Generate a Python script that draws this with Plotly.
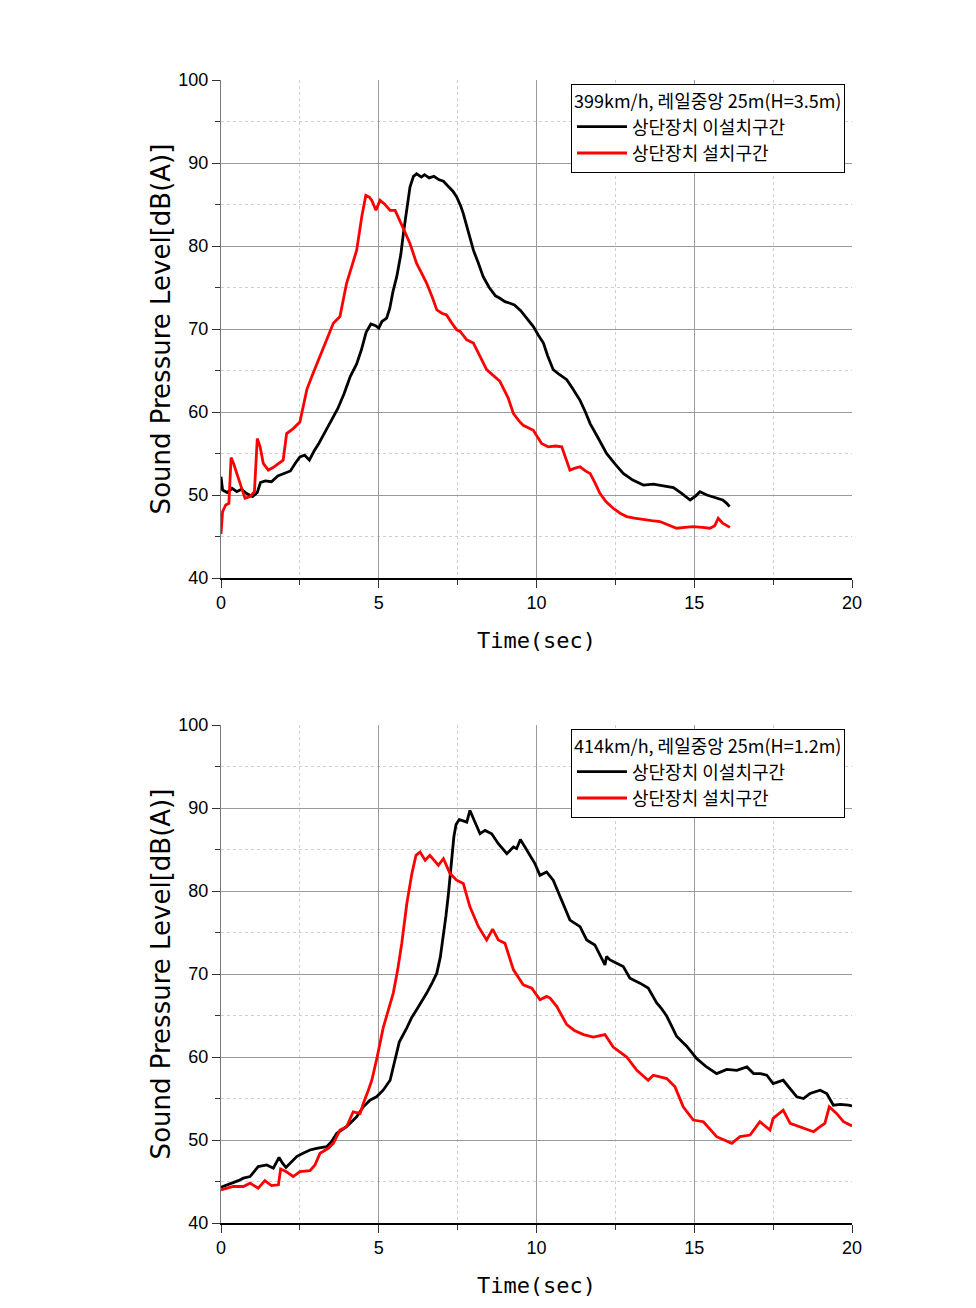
import plotly.graph_objects as go

# ---------------- data ----------------
legend_title_top = "399km/h, 레일중앙 25m(H=3.5m)"
legend_title_bot = "414km/h, 레일중앙 25m(H=1.2m)"
name_black = "상단장치 이설치구간"
name_red = "상단장치 설치구간"

t1_black = [0.0, 0.05, 0.2, 0.35, 0.5, 0.65, 0.8, 1.0, 1.15, 1.25, 1.4, 1.6, 1.8, 2.0, 2.2, 2.35, 2.5, 2.65, 2.8, 2.95,
            3.1, 3.3, 3.5, 3.7, 3.9, 4.1, 4.3, 4.45, 4.6, 4.75, 4.9, 5.0, 5.1, 5.25, 5.35, 5.45, 5.57, 5.7, 5.78, 5.9,
            5.99, 6.1, 6.2, 6.35, 6.45, 6.6, 6.75, 6.9, 7.05, 7.2, 7.35, 7.47, 7.6, 7.68, 7.85, 8.0, 8.15, 8.31, 8.5, 8.7,
            8.84, 9.0, 9.16, 9.3, 9.5, 9.7, 9.9, 10.05, 10.22, 10.35, 10.53, 10.7, 10.96, 11.15, 11.38, 11.55, 11.7,
            11.95, 12.22, 12.5, 12.75, 13.05, 13.39, 13.7, 14.0, 14.34, 14.6, 14.87, 15.05, 15.18, 15.4, 15.7, 15.9,
            16.03, 16.12]
y1_black = [52.2, 50.6, 50.3, 50.8, 50.4, 50.7, 50.2, 49.8, 50.3, 51.5, 51.7, 51.6, 52.3, 52.6, 52.9, 53.8, 54.6, 54.8, 54.2, 55.3,
            56.2, 57.6, 59.0, 60.4, 62.2, 64.3, 65.8, 67.5, 69.6, 70.6, 70.4, 70.1, 70.9, 71.3, 72.5, 74.5, 76.3, 79.0, 81.5, 84.8,
            87.1, 88.4, 88.7, 88.3, 88.6, 88.2, 88.4, 88.0, 87.8, 87.2, 86.6, 85.9, 84.8, 83.9, 81.7, 79.5, 78.0, 76.3, 75.0, 74.0,
            73.7, 73.3, 73.1, 72.9, 72.2, 71.3, 70.3, 69.3, 68.3, 66.8, 65.1, 64.6, 63.9, 62.8, 61.4, 60.0, 58.6,
            56.9, 55.0, 53.7, 52.6, 51.8, 51.2, 51.3, 51.1, 50.9, 50.2, 49.4, 49.9, 50.4, 50.0, 49.6, 49.4,
            49.0, 48.6]

t1_red = [0.0, 0.05, 0.15, 0.25, 0.32, 0.4, 0.5, 0.6, 0.76, 0.92, 1.06, 1.15, 1.24, 1.34, 1.5, 1.65, 1.76, 1.97, 2.08, 2.29,
          2.5, 2.72, 2.9, 3.14, 3.35, 3.56, 3.77, 3.98, 4.15, 4.3, 4.46, 4.59, 4.7, 4.78, 4.91, 5.04, 5.2, 5.36, 5.52, 5.67,
          5.85, 5.99, 6.2, 6.35, 6.52, 6.7, 6.84, 7.0, 7.15, 7.3, 7.47, 7.58, 7.79, 8.0, 8.1, 8.25, 8.42, 8.6, 8.84, 9.1,
          9.27, 9.45, 9.58, 9.9, 10.16, 10.37, 10.6, 10.8, 10.95, 11.06, 11.2, 11.38, 11.55, 11.7, 11.85, 12.01, 12.2,
          12.43, 12.65, 12.86, 13.1, 13.39, 13.65, 13.91, 14.2, 14.44, 14.7, 14.97, 15.25, 15.5, 15.65, 15.76, 15.9, 16.13]
y1_red = [45.3, 48.0, 48.8, 49.0, 54.5, 53.8, 52.6, 51.4, 49.6, 49.8, 50.4, 56.8, 55.8, 53.8, 53.0, 53.3, 53.6, 54.2, 57.4, 58.0,
          58.8, 62.7, 64.5, 66.7, 68.8, 70.7, 71.5, 75.5, 77.6, 79.5, 83.5, 86.1, 85.9, 85.5, 84.3, 85.5, 85.0, 84.3, 84.3, 83.1,
          81.5, 80.3, 77.9, 76.8, 75.5, 73.8, 72.3, 71.9, 71.7, 70.8, 69.9, 69.7, 68.7, 68.3, 67.5, 66.3, 65.1, 64.5, 63.7, 61.7,
          59.8, 58.9, 58.4, 57.8, 56.2, 55.8, 55.9, 55.8, 54.2, 53.0, 53.2, 53.4, 52.9, 52.6, 51.5, 50.2, 49.2,
          48.4, 47.8, 47.4, 47.2, 47.0, 46.9, 46.8, 46.4, 46.0, 46.1, 46.2, 46.1, 46.0, 46.3, 47.2, 46.6, 46.1]

t2_black = [0.0, 0.2, 0.39, 0.55, 0.71, 0.92, 1.05, 1.18, 1.45, 1.66, 1.84, 1.95, 2.06, 2.25, 2.4, 2.6, 2.82, 3.03, 3.35, 3.5,
            3.67, 3.98, 4.15, 4.3, 4.51, 4.72, 4.93, 5.14, 5.36, 5.5, 5.65, 5.89, 6.05, 6.2, 6.35, 6.52, 6.7, 6.84, 6.95,
            7.05, 7.13, 7.21, 7.31, 7.38, 7.45, 7.55, 7.63, 7.79, 7.89, 8.05, 8.21, 8.37, 8.58, 8.79, 9.06, 9.27, 9.37,
            9.49, 9.69, 9.95, 10.11, 10.32, 10.53, 10.75, 10.9, 11.06, 11.38, 11.59, 11.85, 12.0, 12.17, 12.22, 12.33,
            12.54, 12.75, 12.96, 13.18, 13.28, 13.54, 13.81, 13.95, 14.13, 14.3, 14.44, 14.6, 14.76, 15.08, 15.39, 15.71,
            16.03, 16.35, 16.67, 16.88, 17.1, 17.3, 17.5, 17.82, 18.05, 18.25, 18.46, 18.67, 18.99, 19.2, 19.41, 19.63,
            19.89, 20.0]
y2_black = [44.3, 44.6, 44.8, 45.1, 45.4, 45.6, 46.2, 46.8, 47.0, 46.6, 47.9, 47.2, 46.7, 47.5, 48.0, 48.4, 48.8, 49.0, 49.2, 49.8,
            50.8, 51.6, 52.2, 52.8, 54.0, 54.8, 55.2, 56.0, 57.2, 59.5, 61.8, 63.5, 64.8, 65.7, 66.6, 67.7, 69.0, 70.1, 72.0,
            74.5, 77.0, 79.7, 84.1, 86.5, 88.0, 88.6, 88.5, 88.3, 89.7, 88.2, 86.9, 87.3, 86.9, 85.7, 84.5, 85.3, 85.1,
            86.2, 84.9, 83.3, 81.9, 82.3, 81.3, 79.3, 77.8, 76.5, 75.7, 74.1, 73.5, 72.4, 71.1, 72.1, 71.7,
            71.3, 70.9, 69.5, 69.1, 68.9, 68.3, 66.5, 65.9, 64.9, 63.6, 62.5, 61.9, 61.3, 59.8, 58.8, 58.0,
            58.5, 58.4, 58.8, 58.0, 58.0, 57.8, 56.8, 57.2, 56.2, 55.2, 55.0, 55.6, 56.0, 55.6, 54.2, 54.3,
            54.2, 54.1]

t2_red = [0.0, 0.2, 0.39, 0.71, 0.92, 1.18, 1.39, 1.6, 1.82, 1.89, 2.06, 2.29, 2.5, 2.82, 2.98, 3.14, 3.4, 3.56, 3.77, 3.98,
          4.19, 4.41, 4.51, 4.67, 4.78, 4.95, 5.14, 5.46, 5.6, 5.73, 5.89, 6.05, 6.18, 6.31, 6.47, 6.62, 6.89, 7.05, 7.26,
          7.47, 7.68, 7.89, 8.16, 8.42, 8.61, 8.79, 9.0, 9.27, 9.58, 9.85, 10.11, 10.32, 10.43, 10.64, 10.96, 11.2, 11.49,
          11.8, 12.17, 12.43, 12.86, 13.18, 13.54, 13.7, 14.13, 14.39, 14.65, 14.97, 15.29, 15.71, 15.95, 16.19, 16.45,
          16.77, 17.08, 17.4, 17.5, 17.82, 18.04, 18.46, 18.78, 18.99, 19.14, 19.28, 19.51, 19.73, 19.94, 20.0]
y2_red = [44.0, 44.2, 44.4, 44.4, 44.8, 44.2, 45.1, 44.5, 44.6, 46.5, 46.2, 45.6, 46.2, 46.3, 47.0, 48.4, 49.0, 49.6, 51.2, 51.6,
          53.4, 53.2, 54.4, 56.0, 57.2, 60.0, 63.5, 67.7, 70.5, 73.7, 78.5, 82.1, 84.3, 84.7, 83.7, 84.3, 83.1, 83.9, 82.1,
          81.3, 80.9, 78.1, 75.7, 74.1, 75.4, 74.1, 73.7, 70.5, 68.7, 68.3, 66.9, 67.3, 67.1, 66.1, 63.9, 63.2, 62.7,
          62.4, 62.7, 61.2, 60.0, 58.4, 57.2, 57.8, 57.4, 56.4, 54.0, 52.4, 52.2, 50.4, 50.0, 49.6, 50.4,
          50.6, 52.2, 51.2, 52.6, 53.6, 52.0, 51.4, 51.0, 51.6, 52.0, 54.0, 53.2, 52.2, 51.8, 51.7]

x_ticks = [0, 5, 10, 15, 20]
y_ticks = [40, 50, 60, 70, 80, 90, 100]

# ---------------- figure ----------------
# page body has an 8px margin, so the figure is drawn 8px in from the window edge
OFF = 8
W, H = 976 - 2 * OFF, 1308 - 2 * OFF
PX_L, PX_R = 221 - OFF, 852 - OFF          # plot x extent
TOP1, BOT1 = 80 - OFF, 578 - OFF            # upper plot
TOP2, BOT2 = 725 - OFF, 1223 - OFF          # lower plot
M_L, M_R, M_T, M_B = PX_L, W - PX_R, TOP1, H - BOT2
PH = H - M_T - M_B

fig = go.Figure()

KR = "Noto Sans CJK KR"
LINE_W = 2.8

fig.add_trace(go.Scatter(x=t1_black, y=y1_black, mode="lines", name=name_black,
                         line=dict(color="#000000", width=LINE_W), xaxis="x", yaxis="y", legend="legend"))
fig.add_trace(go.Scatter(x=t1_red, y=y1_red, mode="lines", name=name_red,
                         line=dict(color="#ff0000", width=LINE_W), xaxis="x", yaxis="y", legend="legend"))
fig.add_trace(go.Scatter(x=t2_black, y=y2_black, mode="lines", name=name_black,
                         line=dict(color="#000000", width=LINE_W), xaxis="x2", yaxis="y2", legend="legend2"))
fig.add_trace(go.Scatter(x=t2_red, y=y2_red, mode="lines", name=name_red,
                         line=dict(color="#ff0000", width=LINE_W), xaxis="x2", yaxis="y2", legend="legend2"))

y_dom_top = [(BOT2 - BOT1) / PH, 1.0]
y_dom_bot = [0.0, (BOT2 - TOP2) / PH]

tick_font = dict(family="Liberation Sans, Arial", size=18, color="#000")


def xaxis_cfg(anchor):
    return dict(
        domain=[0, 1], anchor=anchor, range=[0, 20], tickmode="array", tickvals=x_ticks,
        ticks="outside", ticklen=8, tickcolor="#333", tickwidth=1,
        showgrid=True, gridcolor="#9a9a9a", gridwidth=1, zeroline=False,
        showline=True, linecolor="#000", linewidth=1.5, automargin=False,
        minor=dict(tickvals=[2.5, 7.5, 12.5, 17.5], ticks="outside", ticklen=5, tickcolor="#333",
                   showgrid=True, gridcolor="#cfcfcf", griddash="dot", gridwidth=1),
        tickfont=tick_font,
        title=dict(text="Time(sec)", font=dict(family="DejaVu Sans Mono", size=22, color="#000"), standoff=20),
    )


def yaxis_cfg(anchor):
    return dict(
        anchor=anchor, range=[40, 100], tickmode="array", tickvals=y_ticks,
        ticks="outside", ticklen=8, tickcolor="#333", tickwidth=1,
        showgrid=True, gridcolor="#9a9a9a", gridwidth=1, zeroline=False,
        showline=True, linecolor="#777", linewidth=1, automargin=False,
        minor=dict(tickvals=[45, 55, 65, 75, 85, 95], ticks="outside", ticklen=5, tickcolor="#333",
                   showgrid=True, gridcolor="#cfcfcf", griddash="dot", gridwidth=1),
        tickfont=tick_font,
        title=dict(text="Sound Pressure Level[dB(A)]",
                   font=dict(family="DejaVu Sans", size=26, color="#000"), standoff=0),
    )


leg_font = dict(family=KR, size=18, color="#000")
leg_common = dict(
    xanchor="left", yanchor="top", x=(571 - OFF - M_L) / (W - M_L - M_R),
    bgcolor="#ffffff", bordercolor="#000", borderwidth=1,
    font=leg_font, itemwidth=50, tracegroupgap=0,
)

fig.update_layout(
    width=W, height=H,
    margin=dict(l=M_L, r=M_R, t=M_T, b=M_B, autoexpand=False),
    paper_bgcolor="#ffffff", plot_bgcolor="#ffffff",
    xaxis=xaxis_cfg("y"),
    yaxis=dict(domain=y_dom_top, **yaxis_cfg("x")),
    xaxis2=xaxis_cfg("y2"),
    yaxis2=dict(domain=y_dom_bot, **yaxis_cfg("x2")),
    legend=dict(y=(BOT2 - (84 - OFF)) / PH, title=dict(text=legend_title_top, font=leg_font), **leg_common),
    legend2=dict(y=(BOT2 - (729 - OFF)) / PH, title=dict(text=legend_title_bot, font=leg_font), **leg_common),
)

fig.write_html("out.html")
